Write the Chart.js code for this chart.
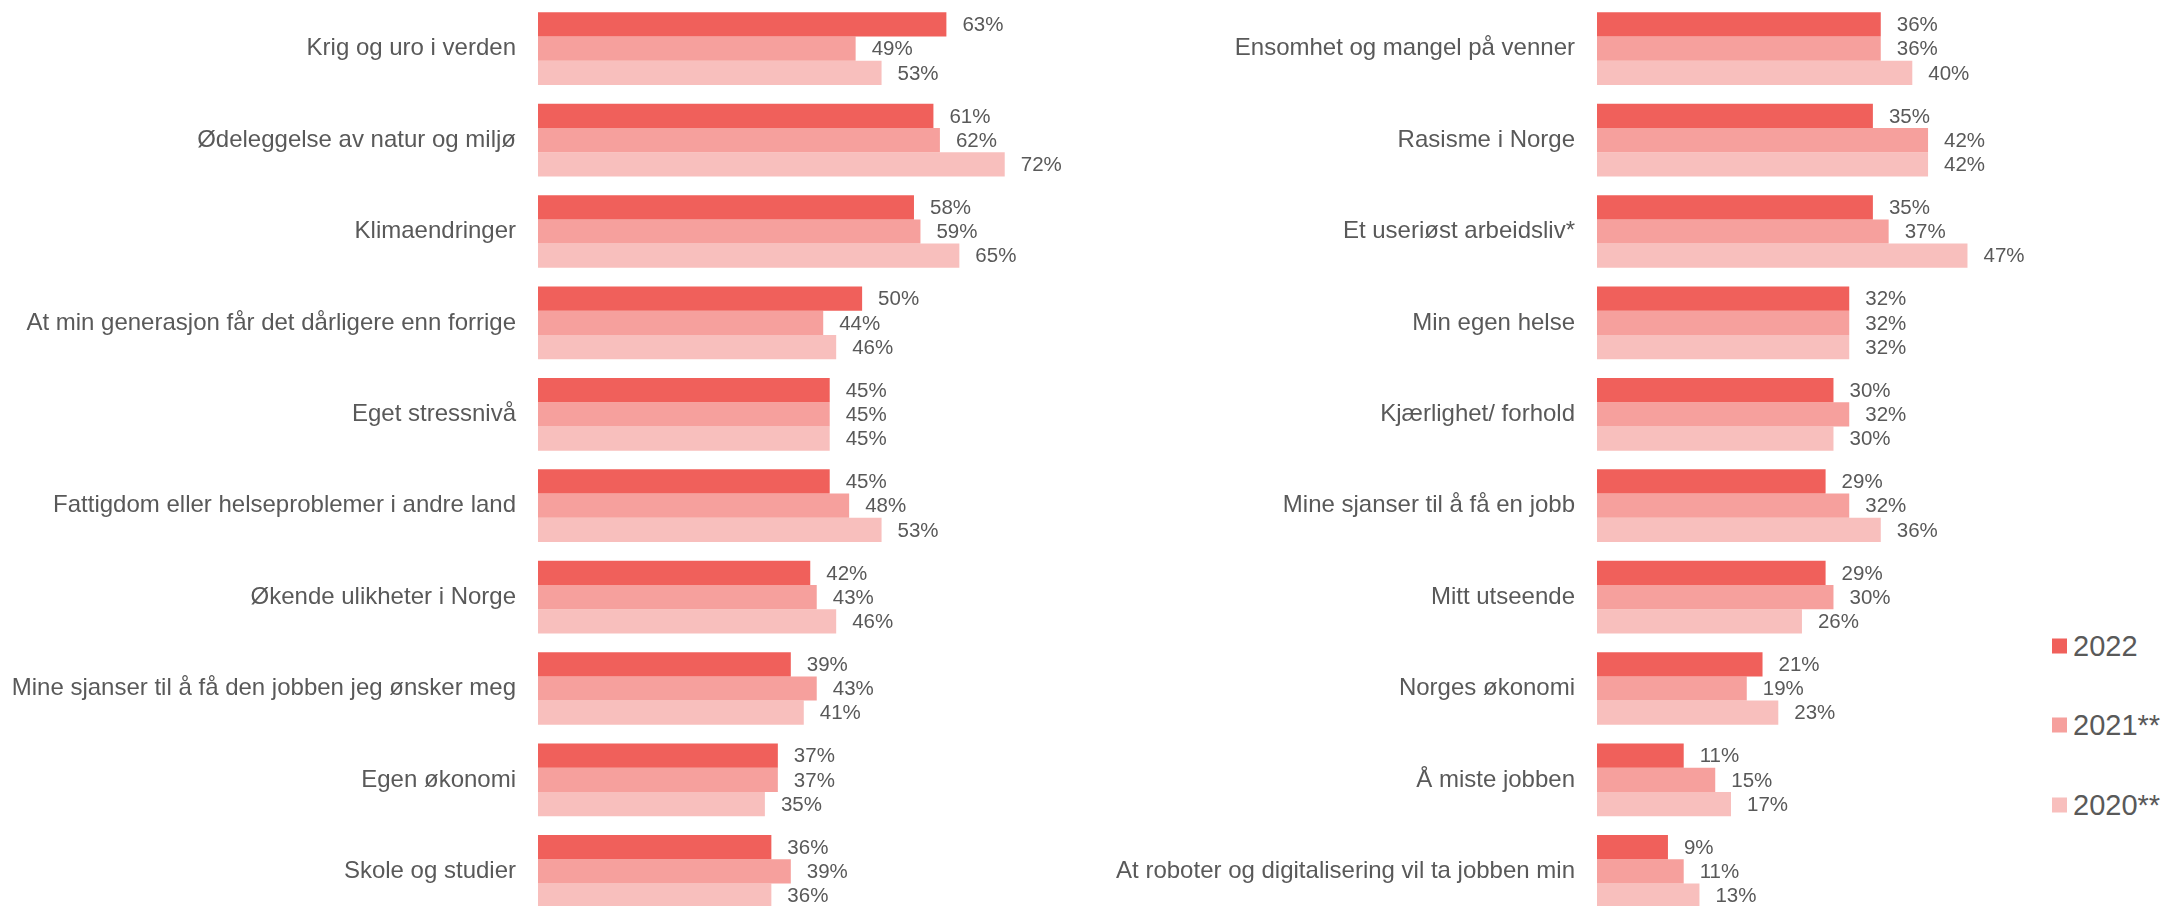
<!DOCTYPE html>
<html>
<head>
<meta charset="utf-8">
<script src="https://cdn.jsdelivr.net/npm/chart.js@4.4.0/dist/chart.umd.min.js"></script>
<style>
  body { margin: 0; width: 2162px; height: 906px; overflow: hidden; background: #fff; font-family: "Liberation Sans", Arial, sans-serif; }
  #left { position: absolute; left: 0; top: 0; width: 1089px; height: 920px; }
  #right { position: absolute; left: 1090px; top: 0; width: 950px; height: 920px; }
  .item { position: absolute; left: 2052px; display: flex; align-items: center; white-space: nowrap; color: #595959; font-size: 29px; transform: translateY(-50%); }
  .box { width: 15px; height: 15px; margin-right: 6px; }
</style>
</head>
<body>
<div id="left"><canvas id="leftChart"></canvas></div>
<div id="right"><canvas id="rightChart"></canvas></div>
<div id="legend"></div>

<script>
const years = ["2022", "2021**", "2020**"];
const colors = ["#F0605B", "#F6A09D", "#F8BFBD"];

const leftLabels = [
  "Krig og uro i verden",
  "Ødeleggelse av natur og miljø",
  "Klimaendringer",
  "At min generasjon får det dårligere enn forrige",
  "Eget stressnivå",
  "Fattigdom eller helseproblemer i andre land",
  "Økende ulikheter i Norge",
  "Mine sjanser til å få den jobben jeg ønsker meg",
  "Egen økonomi",
  "Skole og studier"
];
const left2022 = [63, 61, 58, 50, 45, 45, 42, 39, 37, 36];
const left2021 = [49, 62, 59, 44, 45, 48, 43, 43, 37, 39];
const left2020 = [53, 72, 65, 46, 45, 53, 46, 41, 35, 36];

const rightLabels = [
  "Ensomhet og mangel på venner",
  "Rasisme i Norge",
  "Et useriøst arbeidsliv*",
  "Min egen helse",
  "Kjærlighet/ forhold",
  "Mine sjanser til å få en jobb",
  "Mitt utseende",
  "Norges økonomi",
  "Å miste jobben",
  "At roboter og digitalisering vil ta jobben min"
];
const right2022 = [36, 35, 35, 32, 30, 29, 29, 21, 11, 9];
const right2021 = [36, 42, 37, 32, 32, 32, 30, 19, 15, 11];
const right2020 = [40, 42, 47, 32, 30, 36, 26, 23, 17, 13];

const textColor = "#595959";
const fontFamily = "'Liberation Sans', Arial, sans-serif";

// percent labels after each bar
const valueLabels = {
  id: "valueLabels",
  afterDatasetsDraw(chart) {
    const ctx = chart.ctx;
    ctx.save();
    ctx.font = "20.5px " + fontFamily;
    ctx.fillStyle = textColor;
    ctx.textAlign = "left";
    ctx.textBaseline = "middle";
    chart.data.datasets.forEach(function (ds, i) {
      chart.getDatasetMeta(i).data.forEach(function (bar, j) {
        ctx.fillText(ds.data[j] + "%", bar.x + 16, bar.y + 1);
      });
    });
    ctx.restore();
  }
};

function makeChart(id, labels, series, axisWidth, max) {
  const ctx = document.getElementById(id).getContext("2d");
  return new Chart(ctx, {
    type: "bar",
    data: {
      labels: labels,
      datasets: series.map(function (values, i) {
        return {
          label: years[i],
          data: values,
          backgroundColor: colors[i],
          borderWidth: 0,
          barPercentage: 1,
          categoryPercentage: 0.795
        };
      })
    },
    options: {
      indexAxis: "y",
      responsive: true,
      maintainAspectRatio: false,
      animation: false,
      layout: { padding: { top: 3, bottom: 3, left: 0, right: 0 } },
      plugins: {
        legend: { display: false },
        tooltip: { enabled: false }
      },
      scales: {
        x: { display: false, min: 0, max: max },
        y: {
          grid: { display: false, drawTicks: false },
          border: { display: false },
          ticks: {
            autoSkip: false,
            padding: 22,
            color: textColor,
            font: { family: fontFamily, size: 24 }
          },
          afterFit: function (scale) {
            scale.width = axisWidth;
            scale.paddingTop = 0;
            scale.paddingBottom = 0;
          }
        }
      }
    },
    plugins: [valueLabels]
  });
}

makeChart("leftChart", leftLabels, [left2022, left2021, left2020], 538, 85);
makeChart("rightChart", rightLabels, [right2022, right2021, right2020], 507, 56.2);

// legend
const legend = document.getElementById("legend");
const legendY = [646, 725, 805];
years.forEach(function (year, i) {
  const item = document.createElement("div");
  item.className = "item";
  item.style.top = legendY[i] + "px";
  item.innerHTML = '<span class="box" style="background:' + colors[i] + '"></span>' + year;
  legend.appendChild(item);
});
</script>
</body>
</html>
